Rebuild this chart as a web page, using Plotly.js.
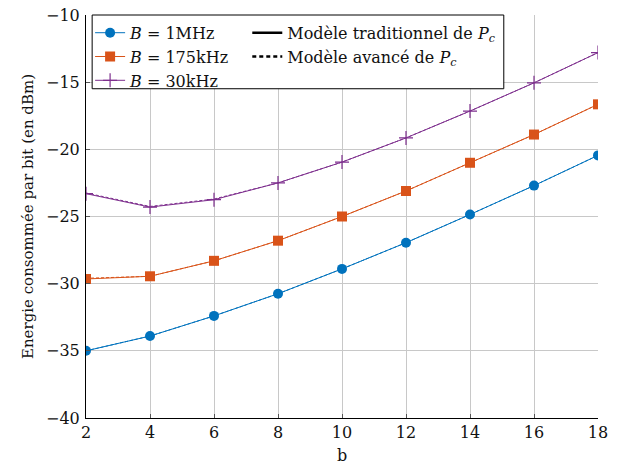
<!DOCTYPE html>
<html><head><meta charset="utf-8">
<script src="https://cdn.plot.ly/plotly-3.0.1.min.js"></script>
<style>body{margin:0;padding:0;background:#fff}#c{width:617px;height:467px}</style>
</head><body><div id="c"></div>
<script>
const bValues = [2, 4, 6, 8, 10, 12, 14, 16, 18];
const trad1MHz   = [-35.0, -33.9, -32.4, -30.75, -28.9, -26.95, -24.85, -22.7, -20.45];
const trad175kHz = [-29.65, -29.45, -28.3, -26.8, -25.0, -23.1, -21.0, -18.9, -16.65];
const trad30kHz  = [-23.3, -24.3, -23.75, -22.5, -20.95, -19.15, -17.15, -15.05, -12.8];
const adv1MHz    = [-35.0, -33.9, -32.4, -30.75, -28.9, -26.95, -24.85, -22.7, -20.45];
const adv175kHz  = [-29.6, -29.45, -28.3, -26.8, -25.0, -23.1, -21.0, -18.9, -16.65];
const adv30kHz   = [-23.25, -24.25, -23.7, -22.5, -20.95, -19.15, -17.15, -15.05, -12.8];
const yTicks = [-40, -35, -30, -25, -20, -15, -10];
const xTicks = [2, 4, 6, 8, 10, 12, 14, 16, 18];

const FONT = 'DejaVu Serif';
const blue = '#0072BD', orange = '#D95319', purple = '#7E2F8E';

const traces = [
  {x: bValues, y: trad1MHz, mode: 'lines+markers', name: '<i>B</i> = 1MHz', legend: 'legend',
   line: {color: blue, width: 1}, marker: {symbol: 'circle', size: 10, color: blue}},
  {x: bValues, y: trad175kHz, mode: 'lines+markers', name: '<i>B</i> = 175kHz', legend: 'legend',
   line: {color: orange, width: 1}, marker: {symbol: 'square', size: 10, color: orange}},
  {x: bValues, y: trad30kHz, mode: 'lines+markers', name: '<i>B</i> = 30kHz', legend: 'legend',
   line: {color: purple, width: 1}, marker: {symbol: 'cross-thin', size: 10, color: purple, line: {color: purple, width: 1.2}}},
  {x: bValues, y: adv1MHz, mode: 'lines', showlegend: false, line: {color: blue, width: 1, dash: '3px,2px'}},
  {x: bValues, y: adv175kHz, mode: 'lines', showlegend: false, line: {color: orange, width: 1, dash: '3px,2px'}},
  {x: bValues, y: adv30kHz, mode: 'lines', showlegend: false, line: {color: purple, width: 1, dash: '3px,2px'}},
  {x: [null], y: [null], mode: 'lines', name: 'Modèle traditionnel de <i>P</i><sub><i>c</i></sub>', legend: 'legend2',
   line: {color: 'black', width: 2.5}},
  {x: [null], y: [null], mode: 'lines', name: 'Modèle avancé de <i>P</i><sub><i>c</i></sub>', legend: 'legend2',
   line: {color: 'black', width: 2.5, dash: '4px,3px'}}
];

const axisCommon = {
  showline: true, linecolor: 'black', linewidth: 1, mirror: false,
  showgrid: true, gridcolor: '#c8c8c8', gridwidth: 1,
  ticks: 'inside', ticklen: 4, tickcolor: '#555', zeroline: false,
  tickfont: {family: FONT, size: 16, color: '#111'}
};

const layout = {
  width: 617, height: 467,
  margin: {l: 86, r: 19, t: 15, b: 49},
  paper_bgcolor: 'white', plot_bgcolor: 'white',
  font: {family: FONT, size: 16, color: '#111'},
  xaxis: Object.assign({}, axisCommon, {
    range: [2, 18], tickvals: xTicks, ticktext: xTicks.map(String),
    title: {text: 'b', font: {family: FONT, size: 16}, standoff: 8}
  }),
  yaxis: Object.assign({}, axisCommon, {
    range: [-40, -10], tickvals: yTicks, ticklabelstandoff: 2,
    title: {text: 'Energie consommée par bit (en dBm)', font: {family: FONT, size: 15}, standoff: 8}
  }),
  shapes: [{type: 'rect', xref: 'paper', yref: 'paper', x0: 0.012, x1: 0.816, y0: 0.817, y1: 1.0,
            fillcolor: 'white', line: {color: 'black', width: 1}, layer: 'above'}],
  legend: {x: 0.008, y: 0.998, xanchor: 'left', yanchor: 'top', bgcolor: 'rgba(0,0,0,0)', borderwidth: 0,
           font: {family: FONT, size: 16}, tracegroupgap: 0},
  legend2: {x: 0.315, y: 0.998, xanchor: 'left', yanchor: 'top', bgcolor: 'rgba(0,0,0,0)', borderwidth: 0,
           font: {family: FONT, size: 16}, tracegroupgap: 0},
  showlegend: true
};

Plotly.newPlot('c', traces, layout, {displayModeBar: false, staticPlot: true});
</script></body></html>
